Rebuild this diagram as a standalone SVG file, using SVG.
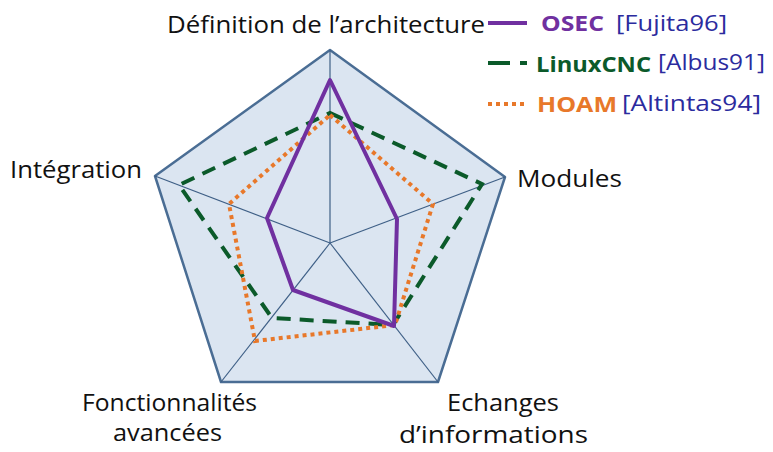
<svg xmlns="http://www.w3.org/2000/svg" width="773" height="452" viewBox="0 0 773 452">
<style>
.lbl{font-family:"Open Sans","Noto Sans",sans-serif;font-size:23px;fill:#111}
.ref{font-family:"Open Sans","Noto Sans",sans-serif;font-size:22px;fill:#2b2b9e}
.nm{font-family:"Open Sans","Noto Sans",sans-serif;font-size:22px;font-weight:bold}
.osec{fill:none;stroke:#7030a0;stroke-width:4;stroke-linejoin:round}
.cnc{fill:none;stroke:#0b5a2a;stroke-width:4;stroke-dasharray:14 9}
.hoam{fill:none;stroke:#e8782a;stroke-width:4;stroke-dasharray:4 4}
.spoke{stroke:#3e5f86;stroke-width:1.2}
</style>
<rect width="773" height="452" fill="#fff"/>
<g id="radar">
<polygon points="330,50 505,177 438,382 221,382 155,176" fill="#dbe5f1" stroke="#4a6d94" stroke-width="2.5" stroke-linejoin="round"/>
<g class="spoke">
<line x1="330" y1="243" x2="330" y2="50"/>
<line x1="330" y1="243" x2="505" y2="177"/>
<line x1="330" y1="243" x2="438" y2="382"/>
<line x1="330" y1="243" x2="221" y2="382"/>
<line x1="330" y1="243" x2="155" y2="176"/>
</g>
</g>
<g id="series">
<polygon class="cnc" points="330,113 482,184 393,325 272,318 179,185"/>
<polygon class="hoam" points="330,115 433,204 395,325 255,341 229,204"/>
<polygon class="osec" points="330,80 397,219 394,326 293,290 267,218"/>
</g>
<g id="axis-labels">
<text class="lbl" x="167" y="33" textLength="318" lengthAdjust="spacingAndGlyphs">Définition de l’architecture</text>
<text class="lbl" x="517" y="187" textLength="105" lengthAdjust="spacingAndGlyphs">Modules</text>
<text class="lbl" x="10" y="178" textLength="132" lengthAdjust="spacingAndGlyphs">Intégration</text>
<text class="lbl" x="82" y="411" textLength="175" lengthAdjust="spacingAndGlyphs">Fonctionnalités</text>
<text class="lbl" x="113" y="441" textLength="109" lengthAdjust="spacingAndGlyphs">avancées</text>
<text class="lbl" x="447" y="411" textLength="112" lengthAdjust="spacingAndGlyphs">Echanges</text>
<text class="lbl" x="399" y="443" textLength="189" lengthAdjust="spacingAndGlyphs">d’informations</text>
</g>
<g id="legend">
<line x1="488" y1="23" x2="527" y2="23" stroke="#7030a0" stroke-width="4"/>
<text class="nm" x="541" y="31" fill="#7030a0" textLength="63" lengthAdjust="spacingAndGlyphs">OSEC</text>
<text class="ref" x="616" y="31" textLength="111" lengthAdjust="spacingAndGlyphs">[Fujita96]</text>
<line x1="488" y1="63" x2="527" y2="63" stroke="#0b5a2a" stroke-width="4" stroke-dasharray="22 10"/>
<text class="nm" x="536" y="72" fill="#0b5a2a" textLength="115" lengthAdjust="spacingAndGlyphs">LinuxCNC</text>
<text class="ref" x="658" y="70" textLength="107" lengthAdjust="spacingAndGlyphs">[Albus91]</text>
<line x1="488" y1="104" x2="528" y2="104" stroke="#e8782a" stroke-width="4" stroke-dasharray="4 4"/>
<text class="nm" x="537" y="112" fill="#e8782a" textLength="80" lengthAdjust="spacingAndGlyphs">HOAM</text>
<text class="ref" x="622" y="111" textLength="139" lengthAdjust="spacingAndGlyphs">[Altintas94]</text>
</g>
</svg>
